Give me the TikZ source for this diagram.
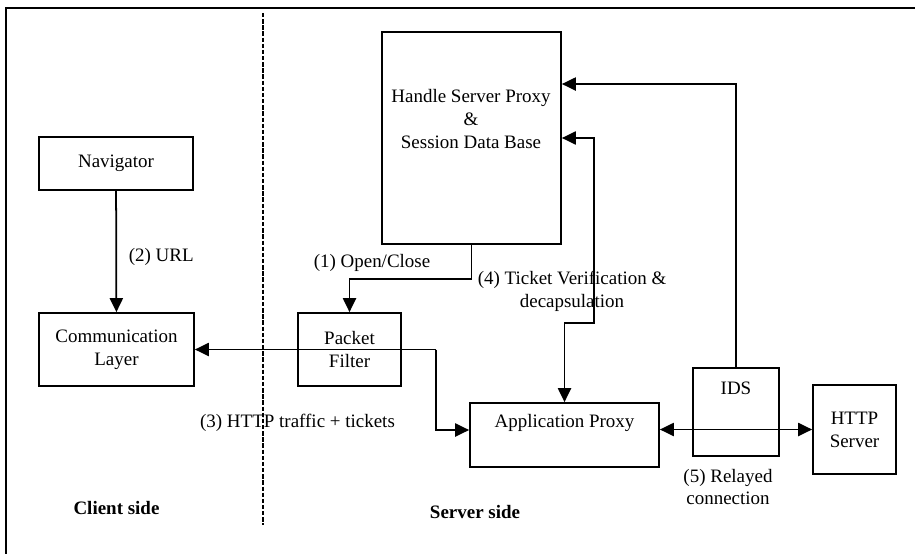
\documentclass[tikz,border=0pt]{standalone}
\usepackage{fontspec}
\setmainfont{Liberation Serif}
\usetikzlibrary{arrows.meta}
\tikzset{
  box/.style={draw,line width=1pt,inner sep=0pt,align=center},
  txt/.style={inner sep=0pt,align=center},
}
\begin{document}
\begin{tikzpicture}[x=0.02cm,y=-0.02cm,line width=1pt,>={Triangle[length=8pt,width=7.5pt]},
  font=\fontsize{10.8}{13}\selectfont]
  \useasboundingbox (0,0) rectangle (915,554);
  \draw (915,8) -- (6,8) -- (6,554);
  \draw[line width=0.8pt,dash pattern=on 2.5pt off 1pt] (263,13) -- (263,525);
  % boxes
  \node[box,minimum width=3.08cm,minimum height=1.06cm] (nav) at (116,163.5) {Navigator};
  \node[box,minimum width=3.1cm,minimum height=1.46cm] (comm) at (116.5,349.5) {Communication\\Layer};
  \node[box,minimum width=3.58cm,minimum height=4.24cm] (hsp) at (471.5,138) {};
  \node[txt] (hsptext) at (471,119) {Handle Server Proxy\\\&\\Session Data Base};
  \node[box,minimum width=2.06cm,minimum height=1.46cm] (pf) at (349.5,349.5) {Packet\\Filter};
  \node[box,minimum width=3.78cm,minimum height=1.28cm] (app) at (564.5,435) {};
  \node[txt] (apptext) at (564.5,423) {Application Proxy};
  \node[box,minimum width=1.72cm,minimum height=1.76cm] (ids) at (736,412) {};
  \node[txt] (idstext) at (736,388) {IDS};
  \node[box,minimum width=1.66cm,minimum height=1.78cm] (http) at (854.5,429.5) {HTTP\\Server};
  % connectors
  \coordinate (split) at (436,349.5);
  \draw[->] (nav) -- (comm);
  \draw[->] (hsp.south) -- ++(0,34) -| (pf.north);
  \draw[->] (split) -- (comm.east);
  \draw[->] (split) |- ([yshift=0.1cm]app.west);
  \draw[<->] (hsp.east) -| ++(32,185) -| (app.north);
  \draw[->] (ids.north) |- ([yshift=1.08cm]hsp.east);
  \draw[<->] (http.west -| app.east) -- (http.west);
  % labels
  \node[txt,anchor=west] (urllbl) at (128,257) {(2) URL};
  \node[txt] (openlbl) at (372,263) {(1) Open/Close};
  \node[txt] (ticketlbl) at (572,291) {(4) Ticket Verification \&\\decapsulation};
  \node[txt] (httplbl) at (297.5,423) {(3) HTTP traffic + tickets};
  \node[txt] (relaylbl) at (728,487) {(5) Relayed\\connection};
  \node[txt,font=\fontsize{10.8}{13}\selectfont\bfseries] (clientlbl) at (116.5,508) {Client side};
  \node[txt,font=\fontsize{10.8}{13}\selectfont\bfseries] (serverlbl) at (475,512) {Server side};
\end{tikzpicture}
\end{document}
